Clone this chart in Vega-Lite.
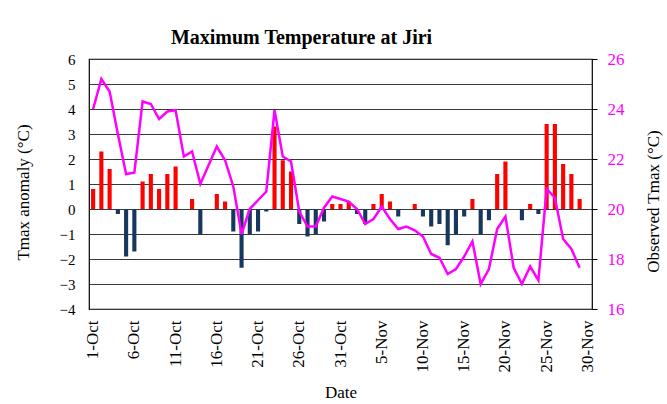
{
  "$schema": "https://vega.github.io/schema/vega-lite/v6.json",
  "width": 503,
  "height": 250,
  "autosize": {"type": "none"},
  "padding": {"left": 89, "top": 59, "right": 75, "bottom": 95},
  "background": "#ffffff",
  "config": {
    "font": "Liberation Serif",
    "view": {"stroke": "#000000", "strokeWidth": 1.2},
    "axis": {"labelColor": "#000000", "titleColor": "#000000", "titleFontWeight": "normal", "labelFont": "Liberation Serif", "titleFont": "Liberation Serif"}
  },
  "title": {
    "text": "Maximum Temperature at Jiri",
    "font": "Liberation Serif",
    "fontSize": 20,
    "fontWeight": "bold",
    "color": "#000000",
    "anchor": "middle",
    "frame": "group",
    "baseline": "alphabetic",
    "offset": 15,
    "dx": -39,
    "dy": 29
  },
  "data": {
    "values": [
      {"date": "1-Oct", "anomaly": 0.8, "tmax": 24.0},
      {"date": "2-Oct", "anomaly": 2.3, "tmax": 25.2},
      {"date": "3-Oct", "anomaly": 1.6, "tmax": 24.7},
      {"date": "4-Oct", "anomaly": -0.2, "tmax": 23.0},
      {"date": "5-Oct", "anomaly": -1.9, "tmax": 21.4},
      {"date": "6-Oct", "anomaly": -1.7, "tmax": 21.45},
      {"date": "7-Oct", "anomaly": 1.1, "tmax": 24.3},
      {"date": "8-Oct", "anomaly": 1.4, "tmax": 24.2},
      {"date": "9-Oct", "anomaly": 0.8, "tmax": 23.6},
      {"date": "10-Oct", "anomaly": 1.4, "tmax": 23.9},
      {"date": "11-Oct", "anomaly": 1.7, "tmax": 23.95},
      {"date": "12-Oct", "anomaly": 0, "tmax": 22.1},
      {"date": "13-Oct", "anomaly": 0.4, "tmax": 22.3},
      {"date": "14-Oct", "anomaly": -1.0, "tmax": 21.0},
      {"date": "15-Oct", "anomaly": 0, "tmax": 21.75},
      {"date": "16-Oct", "anomaly": 0.6, "tmax": 22.5},
      {"date": "17-Oct", "anomaly": 0.3, "tmax": 21.95},
      {"date": "18-Oct", "anomaly": -0.9, "tmax": 20.9},
      {"date": "19-Oct", "anomaly": -2.35, "tmax": 19.0},
      {"date": "20-Oct", "anomaly": -1.0, "tmax": 20.0},
      {"date": "21-Oct", "anomaly": -0.9, "tmax": 20.35},
      {"date": "22-Oct", "anomaly": -0.1, "tmax": 20.7},
      {"date": "23-Oct", "anomaly": 3.3, "tmax": 23.95},
      {"date": "24-Oct", "anomaly": 1.95, "tmax": 22.1},
      {"date": "25-Oct", "anomaly": 1.5, "tmax": 21.9},
      {"date": "26-Oct", "anomaly": -0.6, "tmax": 19.9},
      {"date": "27-Oct", "anomaly": -1.1, "tmax": 19.3},
      {"date": "28-Oct", "anomaly": -1.0, "tmax": 19.3},
      {"date": "29-Oct", "anomaly": -0.5, "tmax": 20.05},
      {"date": "30-Oct", "anomaly": 0.2, "tmax": 20.5},
      {"date": "31-Oct", "anomaly": 0.2, "tmax": 20.4},
      {"date": "1-Nov", "anomaly": 0.3, "tmax": 20.3},
      {"date": "2-Nov", "anomaly": -0.2, "tmax": 20.0},
      {"date": "3-Nov", "anomaly": -0.6, "tmax": 19.4},
      {"date": "4-Nov", "anomaly": 0.2, "tmax": 19.6},
      {"date": "5-Nov", "anomaly": 0.6, "tmax": 20.1},
      {"date": "6-Nov", "anomaly": 0.3, "tmax": 19.6},
      {"date": "7-Nov", "anomaly": -0.3, "tmax": 19.2},
      {"date": "8-Nov", "anomaly": 0, "tmax": 19.3},
      {"date": "9-Nov", "anomaly": 0.2, "tmax": 19.15},
      {"date": "10-Nov", "anomaly": -0.3, "tmax": 18.9},
      {"date": "11-Nov", "anomaly": -0.7, "tmax": 18.2},
      {"date": "12-Nov", "anomaly": -0.6, "tmax": 18.05},
      {"date": "13-Nov", "anomaly": -1.45, "tmax": 17.4},
      {"date": "14-Nov", "anomaly": -1.0, "tmax": 17.6},
      {"date": "15-Nov", "anomaly": -0.3, "tmax": 18.1},
      {"date": "16-Nov", "anomaly": 0.4, "tmax": 18.7},
      {"date": "17-Nov", "anomaly": -1.0, "tmax": 17.0},
      {"date": "18-Nov", "anomaly": -0.45, "tmax": 17.6},
      {"date": "19-Nov", "anomaly": 1.4, "tmax": 19.2},
      {"date": "20-Nov", "anomaly": 1.9, "tmax": 19.7},
      {"date": "21-Nov", "anomaly": 0, "tmax": 17.65},
      {"date": "22-Nov", "anomaly": -0.45, "tmax": 17.0},
      {"date": "23-Nov", "anomaly": 0.2, "tmax": 17.7},
      {"date": "24-Nov", "anomaly": -0.2, "tmax": 17.15},
      {"date": "25-Nov", "anomaly": 3.4, "tmax": 20.8},
      {"date": "26-Nov", "anomaly": 3.4, "tmax": 20.45},
      {"date": "27-Nov", "anomaly": 1.8, "tmax": 18.8},
      {"date": "28-Nov", "anomaly": 1.4, "tmax": 18.4},
      {"date": "29-Nov", "anomaly": 0.4, "tmax": 17.65},
      {"date": "30-Nov", "anomaly": 0, "tmax": null}
    ]
  },
  "encoding": {
    "x": {
      "field": "date",
      "type": "ordinal",
      "sort": null,
      "scale": {"paddingInner": 0.5, "paddingOuter": 0.25},
      "axis": {
        "values": ["1-Oct", "6-Oct", "11-Oct", "16-Oct", "21-Oct", "26-Oct", "31-Oct", "5-Nov", "10-Nov", "15-Nov", "20-Nov", "25-Nov", "30-Nov"],
        "labelFont": "Liberation Serif",
        "titleFont": "Liberation Serif",
        "labelAngle": 270,
        "labelFontSize": 17,
        "labelPadding": 11,
        "ticks": false,
        "domain": false,
        "grid": false,
        "title": "Date",
        "titleFontSize": 17,
        "titleFontWeight": "normal",
        "titleBaseline": "middle",
        "titleY": 83
      }
    }
  },
  "layer": [
    {
      "mark": {"type": "bar"},
      "encoding": {
        "y": {
          "field": "anomaly",
          "type": "quantitative",
          "scale": {"domain": [-4, 6], "nice": false, "zero": false},
          "axis": {
            "values": [-4, -3, -2, -1, 0, 1, 2, 3, 4, 5, 6],
            "labelFont": "Liberation Serif",
            "titleFont": "Liberation Serif",
            "labelFontSize": 15,
            "labelPadding": 14,
            "ticks": false,
            "domain": false,
            "grid": true,
            "gridColor": "#383838",
            "gridWidth": 1.2,
            "gridOpacity": 1,
            "title": "Tmax anomaly (°C)",
            "titleFontSize": 17,
            "titleFontWeight": "normal",
            "titleAngle": 270,
            "titleAlign": "center",
            "titleBaseline": "middle",
            "titleX": -66,
            "titleY": 133
          }
        },
        "color": {
          "condition": {"test": "datum.anomaly < 0", "value": "#17375E"},
          "value": "#FF0000"
        }
      }
    },
    {
      "mark": {"type": "line", "color": "#FF00FF", "strokeWidth": 2.5},
      "encoding": {
        "y": {
          "field": "tmax",
          "type": "quantitative",
          "scale": {"domain": [16, 26], "nice": false, "zero": false},
          "axis": {
            "orient": "right",
            "values": [16, 18, 20, 22, 24, 26],
            "labelFont": "Liberation Serif",
            "titleFont": "Liberation Serif",
            "labelFontSize": 17,
            "labelColor": "#FF00FF",
            "labelPadding": 10,
            "ticks": true,
            "tickSize": 5,
            "tickColor": "#000000",
            "domain": false,
            "grid": false,
            "title": "Observed Tmax  (°C)",
            "titleFontSize": 17,
            "titleFontWeight": "normal",
            "titleAngle": 270,
            "titleAlign": "center",
            "titleBaseline": "middle",
            "titleX": 61,
            "titleY": 142
          }
        }
      }
    }
  ],
  "resolve": {"scale": {"y": "independent"}}
}
